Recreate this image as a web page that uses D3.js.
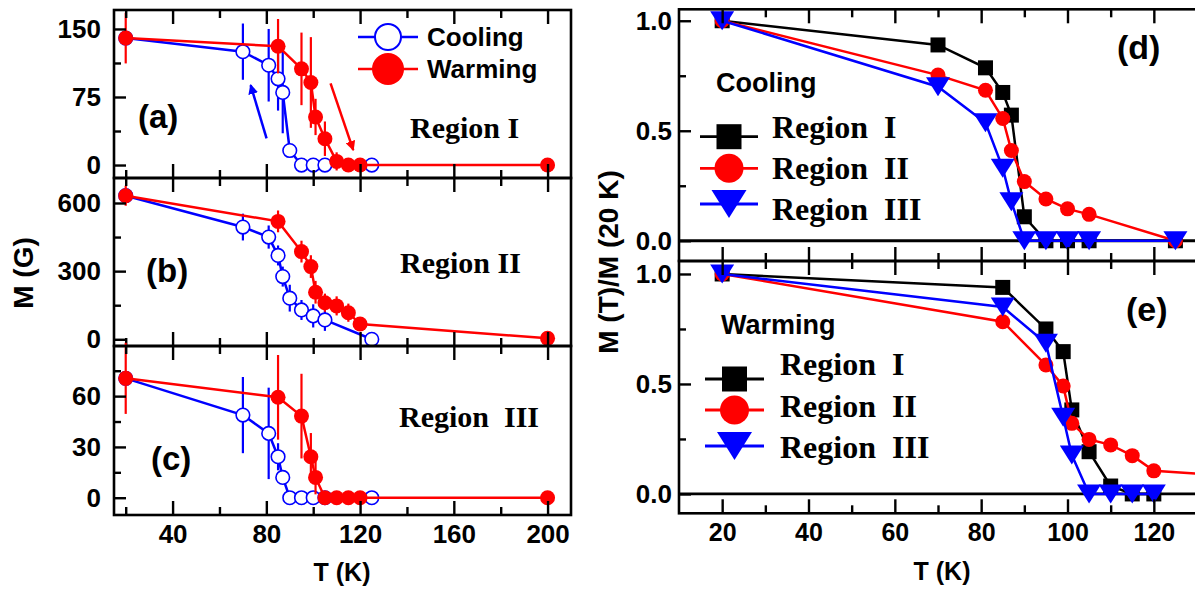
<!DOCTYPE html>
<html>
<head>
<meta charset="utf-8">
<style>
  body { margin: 0; background: #fff; }
  svg text { font-family: "Liberation Sans", Arial, sans-serif; font-weight: bold; fill: #000; }
  .serif { font-family: "Liberation Serif", "Times New Roman", serif; white-space: pre; }
</style>
</head>
<body>
<svg id="chart" width="1195" height="594"></svg>
<script src="https://d3js.org/d3.v7.min.js"></script>
<script>
// temperatures (K)
var coolT = [20, 70, 81, 85, 87, 90, 95, 100, 105, 125];
var warmT = [20, 85, 95, 99, 101, 105, 110, 115, 120, 200];

// M (G), left panels
var coolA = [140, 125, 110, 95, 80, 16, 0, 0, 0, 0];
var coolAErr = [0, 31, 40, 35, 45, 0, 0, 0, 0, 0];
var warmA = [140, 131, 106, 91, 53, 29, 4, 0, 0, 0];
var warmAErr = [28, 30, 40, 50, 20, 19, 10, 0, 0, 0];

var coolB = [632, 494, 450, 369, 276, 181, 129, 103, 85, 0];
var coolBErr = [0, 59, 51, 44, 44, 59, 44, 51, 48, 0];
var warmB = [632, 519, 386, 320, 207, 161, 147, 117, 67, 4];
var warmBErr = [44, 48, 48, 50, 50, 40, 42, 40, 20, 0];

var coolC = [70.5, 48.8, 38, 24.2, 12, 0, 0, 0, 0, 0];
var coolCErr = [0, 22.5, 27, 8, 4, 0, 0, 0, 0, 0];
var warmC = [70.5, 59.3, 48.2, 24.2, 12, 0, 0, 0, 0, 0];
var warmCErr = [21, 25, 25, 14, 10, 0, 0, 0, 0, 0];

// M(T)/M(20 K), right panels
var coolR1 = [1, 0.89, 0.786, 0.674, 0.571, 0.109, 0, 0, 0, 0];
var coolR2 = [1, 0.753, 0.684, 0.556, 0.41, 0.269, 0.19, 0.145, 0.12, 0];
var coolR3 = [1, 0.70, 0.536, 0.33, 0.177, 0, 0, 0, 0, 0];
var warmR1 = [1, 0.939, 0.75, 0.647, 0.382, 0.192, 0.036, 0, 0, null];
var warmR2 = [1, 0.783, 0.586, 0.491, 0.321, 0.248, 0.223, 0.174, 0.105, 0];
var warmR3 = [1, 0.85, 0.685, 0.349, 0.177, 0, 0, 0, 0, null];

// arrows in (a): [T, M] start -> end
var coolArrow = [[80.1, 29.4], [73.3, 88.2]];
var warmArrow = [[107.4, 90.1], [117.1, 16.5]];

var BLUE = '#0000ff', RED = '#ff0000';
var svg = d3.select('#chart');

var defs = svg.append('defs');
[['headBlue', BLUE], ['headRed', RED]].forEach(function(m) {
  defs.append('marker').attr('id', m[0])
    .attr('viewBox', '0 0 10 10').attr('refX', 9).attr('refY', 5)
    .attr('markerWidth', 4).attr('markerHeight', 4).attr('orient', 'auto')
    .append('path').attr('d', 'M0,0L10,5L0,10Z').attr('fill', m[1]);
});

// scales
var xL = d3.scaleLinear().domain([15, 210]).range([114, 571]);
var xR = d3.scaleLinear().domain([10, 130]).range([679, 1197]);

var panels = {
  a: d3.scaleLinear().domain([-14.3, 170.9]).range([178, 10]),
  b: d3.scaleLinear().domain([-29.6, 710]).range([346, 178]),
  c: d3.scaleLinear().domain([-10.2, 89.6]).range([515, 346]),
  d: d3.scaleLinear().domain([-0.092, 1.052]).range([261, 9.3]),
  e: d3.scaleLinear().domain([-0.088, 1.059]).range([513.3, 261])
};

function frame(x, y) {
  var x0 = x.range()[0], x1 = x.range()[1], y0 = y.range()[1], y1 = y.range()[0];
  svg.append('rect').attr('x', x0).attr('y', y0).attr('width', x1 - x0).attr('height', y1 - y0)
    .attr('fill', 'none').attr('stroke', '#000').attr('stroke-width', 2.6);
}

function xTicks(x, y, major, minor, labels, fsize) {
  var yb = y.range()[0], yt = y.range()[1];
  var fmt = labels ? d3.format('d') : function() { return ''; };
  [[d3.axisBottom, yb], [d3.axisTop, yt]].forEach(function(p) {
    var g1 = svg.append('g').attr('transform', 'translate(0,' + p[1] + ')')
      .call(p[0](x).tickValues(major).tickSizeInner(-14).tickSizeOuter(0).tickPadding(10)
        .tickFormat(p[0] === d3.axisBottom ? fmt : function() { return ''; }));
    var g2 = svg.append('g').attr('transform', 'translate(0,' + p[1] + ')')
      .call(p[0](x).tickValues(minor).tickSizeInner(-8).tickSizeOuter(0).tickFormat(''));
    [g1, g2].forEach(function(g) {
      g.select('.domain').remove();
      g.selectAll('line').attr('stroke', '#000').attr('stroke-width', 2.4);
      g.selectAll('text').attr('font-size', fsize).attr('font-family', null);
    });
  });
}

function yTicks(x, y, major, minor, fmt, pad, fsize) {
  var x0 = x.range()[0];
  var g1 = svg.append('g').attr('transform', 'translate(' + x0 + ',0)')
    .call(d3.axisLeft(y).tickValues(major).tickSizeInner(-12).tickSizeOuter(0).tickPadding(pad).tickFormat(fmt));
  var g2 = svg.append('g').attr('transform', 'translate(' + x0 + ',0)')
    .call(d3.axisLeft(y).tickValues(minor).tickSizeInner(-7).tickSizeOuter(0).tickFormat(''));
  [g1, g2].forEach(function(g) {
    g.select('.domain').remove();
    g.selectAll('line').attr('stroke', '#000').attr('stroke-width', 2.4);
    g.selectAll('text').attr('font-size', fsize).attr('font-family', null);
  });
}

function pts(T, V, E) {
  var out = [];
  T.forEach(function(t, i) { if (V[i] !== null) out.push({ t: t, v: V[i], e: E ? E[i] : 0 }); });
  return out;
}

function series(x, y, data, color, kind, clip) {
  var g = svg.append('g');
  if (clip) g.attr('clip-path', 'url(#' + clip + ')');
  var line = d3.line().x(function(d) { return x(d.t); }).y(function(d) { return y(d.v); });
  g.append('path').attr('d', line(data)).attr('fill', 'none').attr('stroke', color).attr('stroke-width', 2.5);
  g.selectAll('line.err').data(data.filter(function(d) { return d.e > 0; })).enter()
    .append('line').attr('class', 'err')
    .attr('x1', function(d) { return x(d.t); }).attr('x2', function(d) { return x(d.t); })
    .attr('y1', function(d) { return y(d.v - d.e); }).attr('y2', function(d) { return y(d.v + d.e); })
    .attr('stroke', color).attr('stroke-width', 2.2);
  var m = g.selectAll('.mk').data(data).enter();
  if (kind === 'open') {
    m.append('circle').attr('cx', function(d) { return x(d.t); }).attr('cy', function(d) { return y(d.v); })
      .attr('r', 6.8).attr('fill', '#fff').attr('stroke', color).attr('stroke-width', 1.6);
  } else if (kind === 'circle') {
    m.append('circle').attr('cx', function(d) { return x(d.t); }).attr('cy', function(d) { return y(d.v); })
      .attr('r', 7.5).attr('fill', color);
  } else if (kind === 'square') {
    m.append('rect').attr('x', function(d) { return x(d.t) - 7.5; }).attr('y', function(d) { return y(d.v) - 7.5; })
      .attr('width', 15).attr('height', 15).attr('fill', color);
  } else {
    m.append('path').attr('d', 'M-12,-9.5L12,-9.5L0,9.5Z')
      .attr('transform', function(d) { return 'translate(' + x(d.t) + ',' + y(d.v) + ')'; })
      .attr('fill', color);
  }
}

function text(x, y, s, size, cls, anchor) {
  return svg.append('text').attr('x', x).attr('y', y).attr('font-size', size)
    .attr('class', cls || null).attr('text-anchor', anchor || 'start').text(s);
}

// ---------- left panels ----------
var leftSets = [
  ['a', coolA, coolAErr, warmA, warmAErr, [0, 75, 150], [37.5, 112.5]],
  ['b', coolB, coolBErr, warmB, warmBErr, [0, 300, 600], [150, 450]],
  ['c', coolC, coolCErr, warmC, warmCErr, [0, 30, 60], [15, 45, 75]]
];
leftSets.forEach(function(s) {
  var y = panels[s[0]];
  series(xL, y, pts(coolT, s[1], s[2]), BLUE, 'open');
  series(xL, y, pts(warmT, s[3], s[4]), RED, 'circle');
  frame(xL, y);
  xTicks(xL, y, [40, 80, 120, 160, 200], [20, 60, 100, 140, 180], s[0] === 'c', 26);
  yTicks(xL, y, s[5], s[6], d3.format('d'), 13, 26);
});

// arrows
[[coolArrow, BLUE, 'headBlue'], [warmArrow, RED, 'headRed']].forEach(function(a) {
  svg.append('line')
    .attr('x1', xL(a[0][0][0])).attr('y1', panels.a(a[0][0][1]))
    .attr('x2', xL(a[0][1][0])).attr('y2', panels.a(a[0][1][1]))
    .attr('stroke', a[1]).attr('stroke-width', 2.5).attr('marker-end', 'url(#' + a[2] + ')');
});

// legend (a)
svg.append('line').attr('x1', 358).attr('x2', 418).attr('y1', 37).attr('y2', 37).attr('stroke', BLUE).attr('stroke-width', 2.5);
svg.append('circle').attr('cx', 388).attr('cy', 37).attr('r', 13).attr('fill', '#fff').attr('stroke', BLUE).attr('stroke-width', 2);
svg.append('line').attr('x1', 358).attr('x2', 418).attr('y1', 69).attr('y2', 69).attr('stroke', RED).attr('stroke-width', 2.5);
svg.append('circle').attr('cx', 388).attr('cy', 69).attr('r', 16).attr('fill', RED);
text(427, 46, 'Cooling', 26);
text(427, 78, 'Warming', 26);

text(138, 128, '(a)', 33);
text(146, 282, '(b)', 33);
text(151, 470, '(c)', 33);
text(410, 138, 'Region I', 30, 'serif');
text(400, 273, 'Region II', 30, 'serif');
text(399, 427, 'Region  III', 30, 'serif');

text(342, 581, 'T (K)', 25, null, 'middle');
svg.append('text').attr('transform', 'translate(33,273) rotate(-90)')
  .attr('text-anchor', 'middle').attr('font-size', 28).text('M (G)');

// ---------- right panels ----------
['d', 'e'].forEach(function(k) {
  var y = panels[k];
  defs.append('clipPath').attr('id', 'clip' + k).append('rect')
    .attr('x', xR.range()[0]).attr('y', y.range()[1])
    .attr('width', xR.range()[1] - xR.range()[0]).attr('height', y.range()[0] - y.range()[1]);
  svg.append('line').attr('x1', xR.range()[0]).attr('x2', xR.range()[1])
    .attr('y1', y(0)).attr('y2', y(0)).attr('stroke', '#000').attr('stroke-width', 2.8);
});

series(xR, panels.d, pts(coolT, coolR1), '#000', 'square', 'clipd');
series(xR, panels.d, pts(coolT, coolR2), RED, 'circle', 'clipd');
series(xR, panels.d, pts(coolT, coolR3), BLUE, 'triangle', 'clipd');
series(xR, panels.e, pts(warmT, warmR1), '#000', 'square', 'clipe');
series(xR, panels.e, pts(warmT, warmR2), RED, 'circle', 'clipe');
series(xR, panels.e, pts(warmT, warmR3), BLUE, 'triangle', 'clipe');

['d', 'e'].forEach(function(k) {
  var y = panels[k];
  frame(xR, y);
  xTicks(xR, y, [20, 40, 60, 80, 100, 120], [30, 50, 70, 90, 110, 130], k === 'e', 25);
  yTicks(xR, y, [0, 0.5, 1], [0.25, 0.75], d3.format('.1f'), 7, 26);
});

// legends (d), (e)
function legendRow(x0, x1, cy, color, kind, tx, ty, label) {
  svg.append('line').attr('x1', x0).attr('x2', x1).attr('y1', cy).attr('y2', cy).attr('stroke', color).attr('stroke-width', 2.8);
  var cx = (x0 + x1) / 2;
  if (kind === 'square') {
    svg.append('rect').attr('x', cx - 12.5).attr('y', cy - 12.5).attr('width', 25).attr('height', 25).attr('fill', color);
  } else if (kind === 'circle') {
    svg.append('circle').attr('cx', cx).attr('cy', cy).attr('r', 14.5).attr('fill', color);
  } else {
    svg.append('path').attr('d', 'M-17.5,-14L17.5,-14L0,14Z').attr('transform', 'translate(' + cx + ',' + cy + ')').attr('fill', color);
  }
  text(tx, ty, label, 32, 'serif');
}
text(716, 92, 'Cooling', 27);
legendRow(700, 758, 136.7, '#000', 'square', 772, 137.5, 'Region  I');
legendRow(700, 758, 168.3, RED, 'circle', 772, 178.5, 'Region  II');
legendRow(700, 758, 204, BLUE, 'triangle', 772, 220, 'Region  III');

text(721, 334, 'Warming', 27);
legendRow(705, 764, 379, '#000', 'square', 780, 375, 'Region  I');
legendRow(705, 764, 410, RED, 'circle', 780, 417, 'Region  II');
legendRow(705, 764, 446, BLUE, 'triangle', 780, 458, 'Region  III');

text(1117, 59, '(d)', 34);
text(1126, 321, '(e)', 34);

text(942, 580, 'T (K)', 25, null, 'middle');
svg.append('text').attr('transform', 'translate(618,262) rotate(-90)')
  .attr('text-anchor', 'middle').attr('font-size', 28).text('M (T)/M (20 K)');
</script>
</body>
</html>
